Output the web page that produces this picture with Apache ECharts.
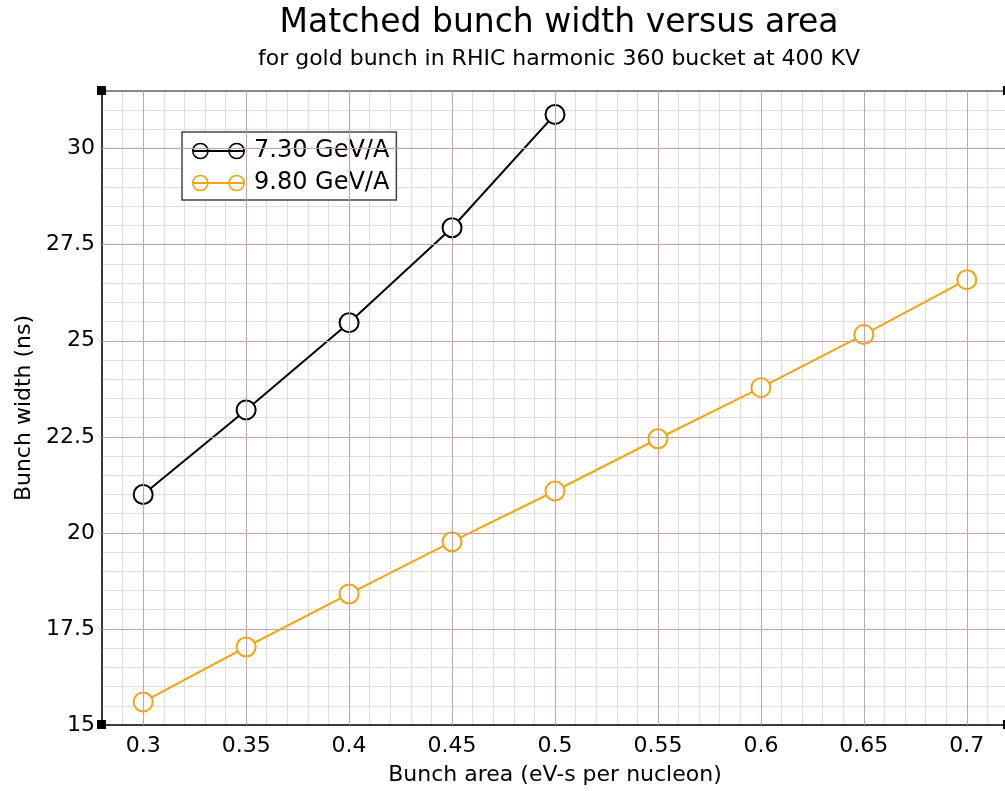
<!DOCTYPE html>
<html>
<head>
<meta charset="utf-8">
<script src="https://cdn.jsdelivr.net/npm/echarts@6/dist/echarts.min.js"></script>
<style>
  html, body { margin: 0; padding: 0; background: #fff; }
  #chart { width: 1005px; height: 791px; }
</style>
</head>
<body>
<div id="chart"></div>
<script>
// Bunch area (eV-s per nucleon) for each energy
const areaLow = [0.30, 0.35, 0.40, 0.45, 0.50];
const areaHigh = [0.30, 0.35, 0.40, 0.45, 0.50, 0.55, 0.60, 0.65, 0.70];
// Matched bunch width (ns)
const width730 = [21.0, 23.2, 25.47, 27.94, 30.89];
const width980 = [15.60, 17.03, 18.41, 19.77, 21.09, 22.45, 23.78, 25.16, 26.59];
// Labelled (major) ticks
const xMajorTicks = [0.30, 0.35, 0.40, 0.45, 0.50, 0.55, 0.60, 0.65, 0.70];
const yMajorTicks = [17.5, 20, 22.5, 25, 27.5, 30];
const seriesNames = ['7.30 GeV/A', '9.80 GeV/A'];

const X_MIN = 0.28, X_MAX = 0.72;
const Y_MIN = 15, Y_MAX = 31.5;

const FONT = '"DejaVu Sans", "Liberation Sans", sans-serif';
const BLACK = '#000000';
const ORANGE = '#f1a414';
const MAJOR_GRID = '#c9a3a3';
const MINOR_GRID = '#e3dada';

function isMultiple(v, step) {
  const q = v / step;
  return Math.abs(q - Math.round(q)) < 1e-6;
}

// open-circle / line / open-circle legend glyph (53 x 17)
function ring(cx, cy, r1, r2) {
  return 'M' + (cx + r1) + ' ' + cy +
    ' A' + r1 + ' ' + r1 + ' 0 1 1 ' + (cx - r1) + ' ' + cy +
    ' A' + r1 + ' ' + r1 + ' 0 1 1 ' + (cx + r1) + ' ' + cy + ' Z' +
    ' M' + (cx + r2) + ' ' + cy +
    ' A' + r2 + ' ' + r2 + ' 0 1 0 ' + (cx - r2) + ' ' + cy +
    ' A' + r2 + ' ' + r2 + ' 0 1 0 ' + (cx + r2) + ' ' + cy + ' Z';
}
const legendIcon = 'path://' + ring(8.5, 8.5, 8.3, 6.7) + ' ' + ring(44.5, 8.5, 8.3, 6.7) +
  ' M1 7.6 L52 7.6 L52 9.4 L1 9.4 Z';

const chart = echarts.init(document.getElementById('chart'), null, { renderer: 'canvas' });

chart.setOption({
  animation: false,
  backgroundColor: '#ffffff',
  title: {
    text: 'Matched bunch width versus area',
    subtext: 'for gold bunch in RHIC harmonic 360 bucket at 400 KV',
    left: 554,
    top: 2,
    textAlign: 'center',
    itemGap: 8,
    textStyle: { fontFamily: FONT, fontSize: 33, fontWeight: 'normal', color: '#000' },
    subtextStyle: { fontFamily: FONT, fontSize: 22, color: '#000' }
  },
  legend: {
    orient: 'vertical',
    left: 182,
    top: 132,
    padding: [6, 7, 4, 10],
    itemWidth: 53,
    itemHeight: 17,
    itemGap: 6,
    backgroundColor: '#ffffff',
    borderColor: '#444444',
    borderWidth: 1.5,
    borderRadius: 0,
    textStyle: { fontFamily: FONT, fontSize: 24, color: '#000', lineHeight: 26, padding: [0, 0, 0, 4] },
    data: [
      { name: seriesNames[0], icon: legendIcon, itemStyle: { color: BLACK, borderWidth: 0 } },
      { name: seriesNames[1], icon: legendIcon, itemStyle: { color: ORANGE, borderWidth: 0 } }
    ]
  },
  grid: {
    left: 102, top: 91, width: 906, bottom: 66,
    containLabel: false,
    outerBoundsMode: 'none'
  },
  xAxis: [{
    type: 'value',
    min: X_MIN,
    max: X_MAX,
    interval: 0.01,
    name: 'Bunch area (eV-s per nucleon)',
    nameLocation: 'middle',
    nameGap: 39,
    nameTextStyle: { fontFamily: FONT, fontSize: 22, color: '#000' },
    axisLine: { show: true, onZero: false, lineStyle: { color: '#000', width: 1.5 } },
    axisTick: { show: false },
    axisLabel: {
      fontFamily: FONT, fontSize: 22, color: '#000', margin: 10,
      formatter: v => isMultiple(v, 0.05) ? String(+v.toFixed(2)) : ''
    },
    splitLine: { show: true, lineStyle: { color: MINOR_GRID, width: 1 } }
  }, {
    type: 'value',
    position: 'top',
    min: X_MIN,
    max: X_MAX,
    axisLine: { show: true, lineStyle: { color: '#666', width: 1.5 } },
    axisTick: { show: false },
    axisLabel: { show: false },
    splitLine: { show: false }
  }],
  yAxis: {
    type: 'value',
    min: Y_MIN,
    max: Y_MAX,
    interval: 0.5,
    name: 'Bunch width (ns)',
    nameLocation: 'middle',
    nameGap: 64,
    nameTextStyle: { fontFamily: FONT, fontSize: 22, color: '#000' },
    axisLine: { show: true, onZero: false, lineStyle: { color: '#000', width: 1.5 } },
    axisTick: { show: false },
    axisLabel: {
      fontFamily: FONT, fontSize: 22, color: '#000', margin: 7,
      formatter: v => isMultiple(v, 2.5) ? String(+v.toFixed(1)) : ''
    },
    splitLine: { show: true, lineStyle: { color: MINOR_GRID, width: 1 } }
  },
  series: [
    {
      // major grid lines at the labelled ticks
      type: 'line',
      name: 'major-grid',
      data: [],
      z: 1,
      silent: true,
      markLine: {
        silent: true,
        symbol: 'none',
        label: { show: false },
        animation: false,
        lineStyle: { color: MAJOR_GRID, width: 1, type: 'solid' },
        data: xMajorTicks.map(v => ({ xAxis: v }))
          .concat(yMajorTicks.map(v => ({ yAxis: v })))
      }
    },
    {
      name: seriesNames[0],
      type: 'line',
      z: 3,
      data: areaLow.map((x, i) => [x, width730[i]]),
      symbol: 'emptyCircle',
      symbolSize: 19,
      itemStyle: { color: BLACK, borderWidth: 1.8 },
      lineStyle: { color: BLACK, width: 2 }
    },
    {
      name: seriesNames[1],
      type: 'line',
      z: 3,
      data: areaHigh.map((x, i) => [x, width980[i]]),
      symbol: 'emptyCircle',
      symbolSize: 19,
      itemStyle: { color: ORANGE, borderWidth: 1.8 },
      lineStyle: { color: ORANGE, width: 2 }
    }
  ]
});

// small square markers on the corners of the plot frame
const corners = [[X_MIN, Y_MAX], [X_MIN, Y_MIN], [X_MAX, Y_MAX], [X_MAX, Y_MIN]]
  .map(c => chart.convertToPixel({ xAxisIndex: 0, yAxisIndex: 0 }, c));
chart.setOption({
  graphic: corners.map(p => ({
    type: 'rect',
    shape: { x: p[0] - 5, y: p[1] - 5, width: 9, height: 9 },
    style: { fill: '#000' },
    z: 10,
    silent: true
  }))
});
</script>
</body>
</html>
